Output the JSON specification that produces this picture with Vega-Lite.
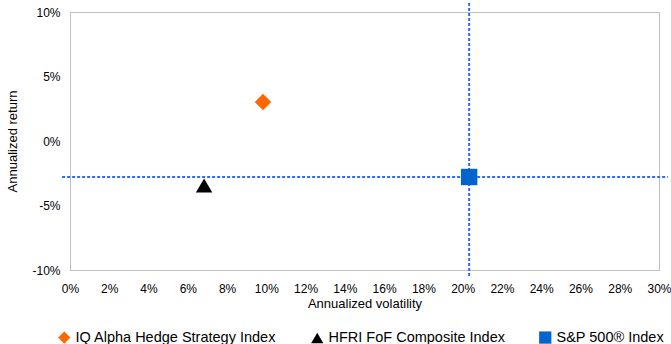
{
  "$schema": "https://vega.github.io/schema/vega-lite/v6.json",
  "autosize": "none",
  "width": 589,
  "height": 258,
  "padding": {"left": 70, "top": 12, "right": 12, "bottom": 74},
  "background": "white",
  "config": {
    "font": "Liberation Sans",
    "view": {"stroke": "#bfbfbf", "strokeWidth": 1},
    "axis": {
      "grid": false,
      "ticks": false,
      "domainColor": "#bfbfbf",
      "labelColor": "#000000",
      "titleColor": "#000000",
      "labelFont": "Liberation Sans",
      "titleFont": "Liberation Sans",
      "labelFontSize": 12,
      "titleFontSize": 13,
      "titleFontWeight": "normal"
    }
  },
  "data": {
    "values": [
      {"name": "IQ Alpha Hedge Strategy Index", "vol": 0.0983, "ret": 3.02},
      {"name": "HFRI FoF Composite Index", "vol": 0.0683, "ret": -3.45},
      {"name": "S&P 500® Index", "vol": 0.2033, "ret": -2.79}
    ]
  },
  "layer": [
    {
      "transform": [{"filter": "datum.name === 'S&P 500® Index'"}],
      "mark": {"type": "rule", "color": "#3366FF", "strokeWidth": 2, "strokeDash": [3, 2]},
      "encoding": {
        "x": {
          "field": "vol",
          "type": "quantitative",
          "scale": {"domain": [0, 0.3], "nice": false, "zero": false},
          "axis": {
            "title": "Annualized volatility",
            "values": [0, 0.02, 0.04, 0.06, 0.08, 0.1, 0.12, 0.14, 0.16, 0.18, 0.2, 0.22, 0.24, 0.26, 0.28, 0.3],
            "tickCount": 20,
            "format": ".0%",
            "labelPadding": 13,
            "titlePadding": 3,
            "labelFlush": false,
            "labelOverlap": false,
            "labelBound": false
          }
        },
        "y": {"datum": 10.7},
        "y2": {"datum": -10.55}
      }
    },
    {
      "transform": [{"filter": "datum.name === 'S&P 500® Index'"}],
      "mark": {"type": "rule", "color": "#3366FF", "strokeWidth": 2, "strokeDash": [3, 2]},
      "encoding": {
        "y": {
          "field": "ret",
          "type": "quantitative",
          "scale": {"domain": [-10, 10], "nice": false, "zero": false},
          "axis": {
            "title": "Annualized return",
            "values": [-10, -5, 0, 5, 10],
            "tickCount": 10,
            "labelExpr": "datum.value + '%'",
            "labelPadding": 10,
            "titlePadding": 12,
            "labelFlush": false,
            "labelOverlap": false
          }
        },
        "x": {"datum": -0.004},
        "x2": {"datum": 0.3045}
      }
    },
    {
      "mark": {"type": "point", "filled": true, "opacity": 1, "size": 270},
      "encoding": {
        "x": {"field": "vol", "type": "quantitative"},
        "y": {"field": "ret", "type": "quantitative"},
        "color": {
          "field": "name",
          "type": "nominal",
          "scale": {
            "domain": ["IQ Alpha Hedge Strategy Index", "HFRI FoF Composite Index", "S&P 500® Index"],
            "range": ["#FF6600", "#000000", "#0066CC"]
          },
          "legend": {
            "title": null,
            "orient": "none",
            "direction": "horizontal",
            "legendX": -13,
            "legendY": 318,
            "columns": 3,
            "columnPadding": 31,
            "symbolSize": 150,
            "symbolOpacity": 1,
            "labelFont": "Liberation Sans",
            "labelFontSize": 14.5,
            "labelColor": "#000000",
            "labelOffset": 4,
            "labelLimit": 400
          }
        },
        "shape": {
          "field": "name",
          "type": "nominal",
          "scale": {
            "domain": ["IQ Alpha Hedge Strategy Index", "HFRI FoF Composite Index", "S&P 500® Index"],
            "range": ["diamond", "triangle-up", "square"]
          }
        }
      }
    }
  ]
}
